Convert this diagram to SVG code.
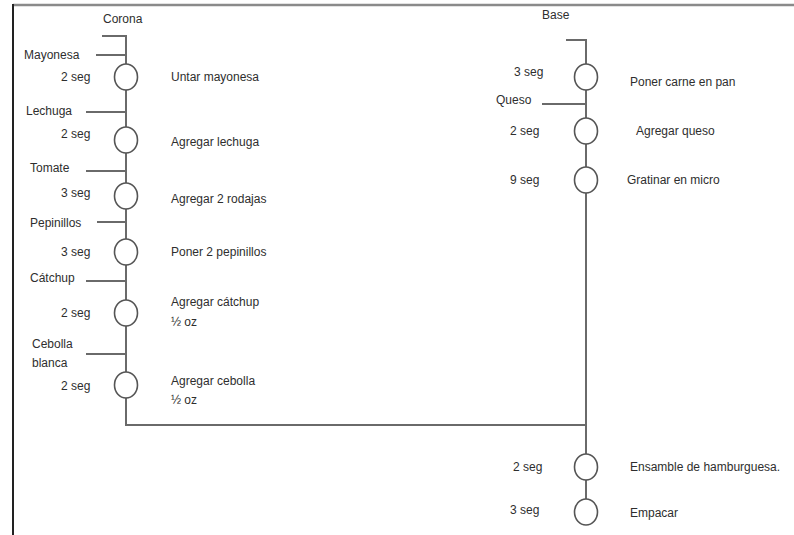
<svg xmlns="http://www.w3.org/2000/svg" width="794" height="535" viewBox="0 0 794 535">
<style>
.t{font-family:"Liberation Sans",Arial,sans-serif;font-size:12px;fill:#2e2e2e;}
.ln{stroke:#6a6a6a;stroke-width:2;fill:none;}
.op{fill:#fff;stroke:#555;stroke-width:1.6;}
</style>
<rect width="794" height="535" fill="#fff"/>
<g id="frame">
<line x1="13" y1="5" x2="794" y2="5" stroke="#8a8a8a" stroke-width="2.5"/>
<line x1="13" y1="4" x2="13" y2="535" stroke="#222" stroke-width="2"/>
</g>
<g id="connectors">
<polyline class="ln" points="102,36 126,36 126,425 586,425"/>
<line class="ln" x1="96" y1="55" x2="126" y2="55"/>
<line class="ln" x1="86" y1="112" x2="126" y2="112"/>
<line class="ln" x1="86" y1="171" x2="126" y2="171"/>
<line class="ln" x1="97" y1="222" x2="126" y2="222"/>
<line class="ln" x1="86" y1="281" x2="126" y2="281"/>
<line class="ln" x1="86" y1="354" x2="126" y2="354"/>
<polyline class="ln" points="566,40 586,40 586,513"/>
<line class="ln" x1="542" y1="104" x2="586" y2="104"/>
</g>
<g id="labels">
<text class="t" x="103" y="23">Corona</text>
<text class="t" x="24" y="59">Mayonesa</text>
<text class="t" x="26" y="115">Lechuga</text>
<text class="t" x="30" y="172">Tomate</text>
<text class="t" x="30" y="227">Pepinillos</text>
<text class="t" x="30" y="282">Cátchup</text>
<text class="t" x="32" y="348">Cebolla</text>
<text class="t" x="32" y="367">blanca</text>
<text class="t" x="542" y="19">Base</text>
<text class="t" x="496" y="104">Queso</text>
</g>
<g id="op1"><ellipse class="op" cx="126" cy="77" rx="11.5" ry="13"/><text class="t" x="61" y="81">2 seg</text><text class="t" x="171" y="81">Untar mayonesa</text></g>
<g id="op2"><ellipse class="op" cx="126" cy="140" rx="11.5" ry="13"/><text class="t" x="61" y="138">2 seg</text><text class="t" x="171" y="146">Agregar lechuga</text></g>
<g id="op3"><ellipse class="op" cx="126" cy="196" rx="11.5" ry="13"/><text class="t" x="61" y="197">3 seg</text><text class="t" x="171" y="203">Agregar 2 rodajas</text></g>
<g id="op4"><ellipse class="op" cx="126" cy="252" rx="11.5" ry="13"/><text class="t" x="61" y="256">3 seg</text><text class="t" x="171" y="256">Poner 2 pepinillos</text></g>
<g id="op5"><ellipse class="op" cx="126" cy="313" rx="11.5" ry="13"/><text class="t" x="61" y="317">2 seg</text><text class="t" x="171" y="306">Agregar cátchup</text><text class="t" x="171" y="326">½ oz</text></g>
<g id="op6"><ellipse class="op" cx="126" cy="385" rx="11.5" ry="13"/><text class="t" x="61" y="390">2 seg</text><text class="t" x="171" y="385">Agregar cebolla</text><text class="t" x="171" y="404">½ oz</text></g>
<g id="op7"><ellipse class="op" cx="586" cy="77" rx="11.5" ry="13"/><text class="t" x="514" y="76">3 seg</text><text class="t" x="630" y="86">Poner carne en pan</text></g>
<g id="op8"><ellipse class="op" cx="586" cy="131" rx="11.5" ry="13"/><text class="t" x="510" y="135">2 seg</text><text class="t" x="636" y="135">Agregar queso</text></g>
<g id="op9"><ellipse class="op" cx="586" cy="180" rx="11.5" ry="13"/><text class="t" x="510" y="184">9 seg</text><text class="t" x="627" y="184">Gratinar en micro</text></g>
<g id="op10"><ellipse class="op" cx="586" cy="467" rx="11.5" ry="13"/><text class="t" x="513" y="471">2 seg</text><text class="t" x="630" y="471">Ensamble de hamburguesa.</text></g>
<g id="op11"><ellipse class="op" cx="586" cy="512" rx="11.5" ry="13"/><text class="t" x="510" y="514">3 seg</text><text class="t" x="630" y="517">Empacar</text></g>
</svg>
